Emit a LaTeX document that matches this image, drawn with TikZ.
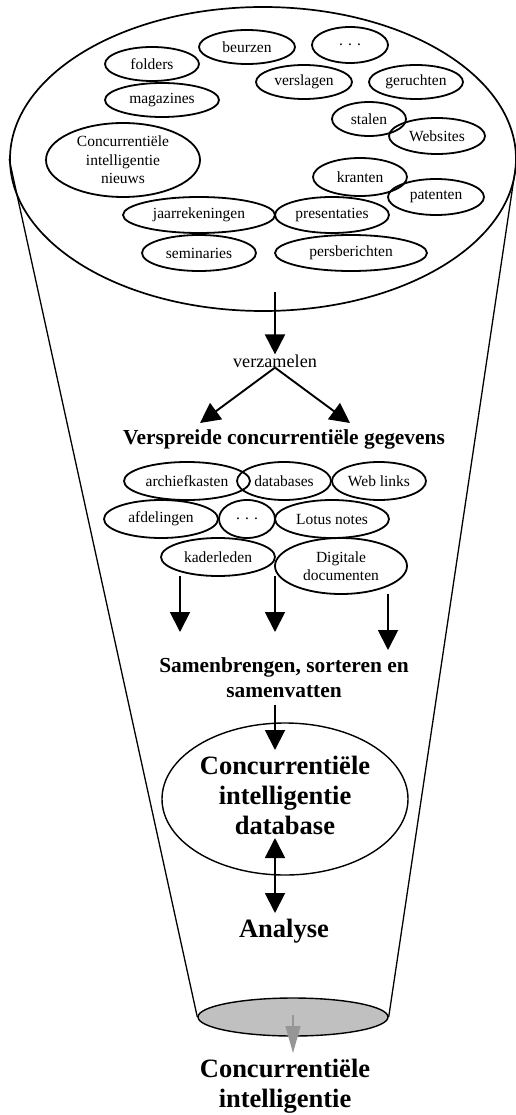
\documentclass[tikz,border=0pt]{standalone}
\usepackage{fontspec}
\setmainfont{Liberation Serif}
\usetikzlibrary{shapes.geometric,arrows.meta}
\definecolor{outletgray}{RGB}{192,192,192}
\definecolor{tipgray}{RGB}{150,150,150}
\begin{document}
\begin{tikzpicture}[x=1pt,y=-1pt,
  src/.style={draw,ellipse,line width=1.8pt,inner sep=0pt,align=center,
    font=\fontsize{15.5}{17.5}\selectfont},
  flow/.style={line width=1.9pt,-{Triangle[width=20pt,length=20pt]}},
  both/.style={line width=1.9pt,{Triangle[width=20pt,length=20pt]}-{Triangle[width=20pt,length=20pt]}},
  step label/.style={inner sep=0pt,align=center,font=\bfseries\fontsize{21.4}{25}\selectfont},
  big label/.style={inner sep=0pt,align=center,font=\bfseries\fontsize{26.5}{30}\selectfont}]
\useasboundingbox (0,0) rectangle (516,1115);

% funnel: wide mouth, tapering walls, grey outlet
\node[draw,ellipse,line width=1.7pt,minimum width=506pt,minimum height=304pt,inner sep=0pt] (mouth) at (263,159) {};
\node[draw,ellipse,line width=1.4pt,fill=outletgray,minimum width=190pt,minimum height=38pt,inner sep=0pt] (outlet) at (293,1017) {};
\draw[line width=1.3pt] (mouth.west) -- (outlet.west);
\draw[line width=1.3pt] (mouth.east) -- (outlet.east);

% external sources
\node[src,minimum width=94pt,minimum height=34pt] (folders) at (152,64) {folders};
\node[src,minimum width=96pt,minimum height=34pt] (beurzen) at (247,47) {beurzen};
\node[src,minimum width=76pt,minimum height=36pt] (dots1) at (350,45) {. . .};
\node[src,minimum width=96pt,minimum height=34pt] (verslagen) at (304,82) {verslagen};
\node[src,minimum width=94pt,minimum height=34pt] (geruchten) at (416,82) {geruchten};
\node[src,minimum width=114pt,minimum height=34pt] (magazines) at (162,100) {magazines};
\node[src,minimum width=74pt,minimum height=34pt] (stalen) at (369,119) {stalen};
\node[src,minimum width=96pt,minimum height=36pt] (websites) at (437,136) {Websites};
\node[src,minimum width=154pt,minimum height=74pt,font=\fontsize{15.5}{18.5}\selectfont] (nieuws) at (123,160) {Concurrentiële\\intelligentie\\nieuws};
\node[src,minimum width=94pt,minimum height=38pt] (kranten) at (360,177) {kranten};
\node[src,minimum width=96pt,minimum height=36pt] (patenten) at (436,197) {patenten};
\node[src,minimum width=152pt,minimum height=36pt] (jaar) at (199,215) {jaarrekeningen};
\node[src,minimum width=114pt,minimum height=36pt] (present) at (332,215) {presentaties};
\node[src,minimum width=114pt,minimum height=36pt] (semin) at (199,253) {seminaries};
\node[src,minimum width=152pt,minimum height=36pt] (pers) at (351,253) {persberichten};

% collecting
\coordinate (mouthout) at (275,292);
\node[inner sep=0pt,font=\fontsize{18.2}{20}\selectfont] (verz) at (275,361) {verzamelen};
\draw[flow] (mouthout) -- (verz.north);
\coordinate (splitl) at (200,423);
\coordinate (splitr) at (350,423);
\draw[flow] (verz.south) -- (splitl);
\draw[flow] (verz.south) -- (splitr);

\node[step label] (spread) at (284,439) {Verspreide concurrentiële gegevens};

% internal sources
\node[src,minimum width=126pt,minimum height=38pt] (archief) at (187,481) {archiefkasten};
\node[src,minimum width=94pt,minimum height=38pt] (dbases) at (284,481) {databases};
\node[src,minimum width=94pt,minimum height=38pt] (weblinks) at (379,481) {Web links};
\node[src,minimum width=114pt,minimum height=38pt] (afd) at (161,519) {afdelingen};
\node[src,minimum width=56pt,minimum height=38pt] (dots2) at (247,519) {. . .};
\node[src,minimum width=114pt,minimum height=38pt] (lotus) at (332,519) {Lotus notes};
\node[src,minimum width=114pt,minimum height=38pt] (kader) at (218,557) {kaderleden};
\node[src,minimum width=132pt,minimum height=56pt] (digital) at (341,566) {Digitale\\documenten};

\coordinate (d1s) at (180,576);
\coordinate (d1e) at (180,632);
\coordinate (d2s) at (275,576);
\coordinate (d2e) at (275,632);
\coordinate (d3s) at (388,594);
\coordinate (d3e) at (388,650);
\draw[flow] (d1s) -- (d1e);
\draw[flow] (d2s) -- (d2e);
\draw[flow] (d3s) -- (d3e);

\node[step label] (merge) at (284,678) {Samenbrengen, sorteren en\\samenvatten};

% database and analysis
\node[draw,ellipse,line width=1.4pt,minimum width=246pt,minimum height=152pt,inner sep=0pt] (db) at (285,799) {};
\node[big label] (dbtext) at (285,795) {Concurrentiële\\intelligentie\\database};
\coordinate (intos) at (275,705);
\coordinate (intoe) at (275,750);
\draw[flow] (intos) -- (intoe);

\node[big label] (analyse) at (284,931) {Analyse};
\coordinate (dbtop) at (275,838);
\coordinate (antop) at (275,913);
\draw[both] (dbtop) -- (antop);

% result
\coordinate (outs) at (293,1015);
\coordinate (oute) at (293,1053);
\draw[tipgray,line width=1.3pt,-{Triangle[width=15pt,length=27pt]}] (outs) -- (oute);
\node[big label] (result) at (285,1086) {Concurrentiële\\intelligentie};
\end{tikzpicture}
\end{document}
